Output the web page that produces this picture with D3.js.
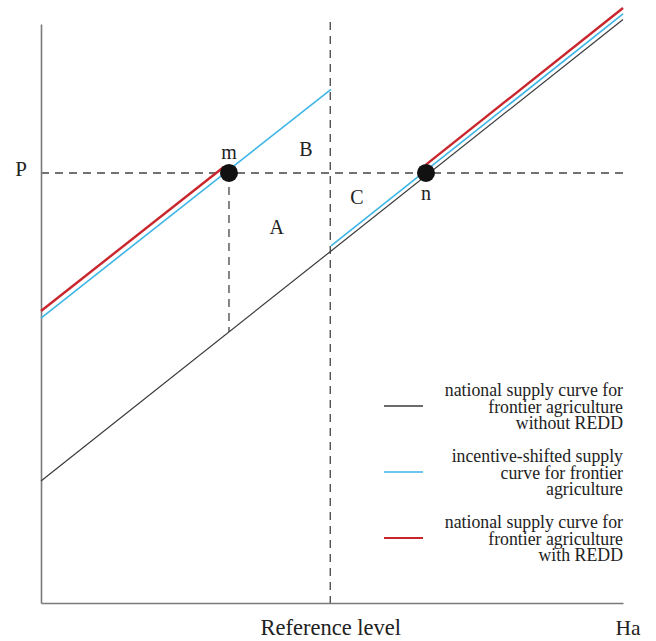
<!DOCTYPE html>
<html>
<head>
<meta charset="utf-8">
<script src="https://cdn.jsdelivr.net/npm/d3@7"></script>
<style>
  html, body { margin: 0; padding: 0; background: #fff; }
  svg { display: block; }
  text { font-family: "Liberation Serif", "DejaVu Serif", serif; fill: #222; }
</style>
</head>
<body>
<div id="chart"></div>
<script>
// ---- data (conceptual units: x = hectares, y = price, both 0..100) ----
const xDomain = [0, 100];
const yDomain = [0, 100];
const priceP = 74.27;            // price level P
const referenceLevel = 49.7;     // reference level on Ha axis
const curveWithoutREDD = [[0, 21.07], [100, 100.78]];
const incentiveLeft = [[0, 49.22], [49.83, 88.72]];
const incentiveRight = [[49.83, 61.66], [100, 101.73]];
const withREDDLeft = [[0, 50.43], [31.4, 75.3]];
const withREDDRight = [[66.15, 75.72], [100, 102.76]];
const mDrop = [[32.3, 74.27], [32.3, 46.8]];
const equilibria = [{ name: "m", x: 32.3, y: 74.27 }, { name: "n", x: 66.15, y: 74.27 }];
const areaLabels = [{ t: "A", x: 40.5, y: 64.9 }, { t: "B", x: 45.5, y: 78.4 }, { t: "C", x: 54.3, y: 70.1 }];
const legendItems = [
  { lines: ["national supply curve for", "frontier agriculture", "without REDD"], key: "black" },
  { lines: ["incentive-shifted supply", "curve for frontier", "agriculture"], key: "blue" },
  { lines: ["national supply curve for", "frontier agriculture", "with REDD"], key: "red" }
];
const xLabel = "Ha";
const refLabel = "Reference level";
const yLabel = "P";

// ---- styles ----
const W = 656, H = 641;
const colors = { black: "#3a3a3a", blue: "#3db5e6", red: "#c9252c", axis: "#7a7a7a", dash: "#444" };
const widths = { black: 1.2, blue: 1.6, red: 2.4 };

const svg = d3.select("#chart").append("svg").attr("width", W).attr("height", H);

const x = d3.scaleLinear().domain(xDomain).range([41, 623]);
const y = d3.scaleLinear().domain(yDomain).range([603, 24]);
const line = d3.line().x(d => x(d[0])).y(d => y(d[1]));

// dashed guides
const dashed = svg.append("g").attr("stroke", colors.dash).attr("stroke-width", 1.3)
  .attr("stroke-dasharray", "8,6").attr("fill", "none");
dashed.append("path").attr("d", line([[0, priceP], [100, priceP]]));
dashed.append("path").attr("d", line([[referenceLevel, 100.35], [referenceLevel, 0]]));
dashed.append("path").attr("d", line(mDrop));

// axes
const xAxis = d3.axisBottom(x).tickValues([referenceLevel]).tickFormat(() => refLabel)
  .tickSize(0).tickSizeOuter(0).tickPadding(16);
const gx = svg.append("g").attr("transform", `translate(0,${y(0)})`).call(xAxis);
gx.select(".domain").attr("stroke", colors.axis).attr("stroke-width", 1.6);
gx.selectAll("text").attr("font-family", "Liberation Serif").attr("font-size", 22.5).attr("fill", "#222");

const yAxis = d3.axisLeft(y).tickValues([priceP]).tickFormat(() => yLabel)
  .tickSize(0).tickSizeOuter(0).tickPadding(14);
const gy = svg.append("g").attr("transform", `translate(${x(0)},0)`).call(yAxis);
gy.select(".domain").attr("stroke", colors.axis).attr("stroke-width", 1.6);
gy.selectAll("text").attr("font-family", "Liberation Serif").attr("font-size", 21).attr("fill", "#222")
  .attr("dy", "0.1em");

svg.append("text").attr("x", 628).attr("y", 635).attr("text-anchor", "middle")
  .attr("font-size", 21.5).text(xLabel);

// curves
const curves = svg.append("g").attr("fill", "none");
curves.append("path").attr("d", line(curveWithoutREDD)).attr("stroke", colors.black).attr("stroke-width", widths.black);
[incentiveLeft, incentiveRight].forEach(seg =>
  curves.append("path").attr("d", line(seg)).attr("stroke", colors.blue).attr("stroke-width", widths.blue));
[withREDDLeft, withREDDRight].forEach(seg =>
  curves.append("path").attr("d", line(seg)).attr("stroke", colors.red).attr("stroke-width", widths.red));

// equilibrium points
svg.append("g").selectAll("circle").data(equilibria).join("circle")
  .attr("cx", d => x(d.x)).attr("cy", d => y(d.y)).attr("r", 9).attr("fill", "#111");
svg.append("g").selectAll("text").data(equilibria).join("text")
  .attr("x", d => x(d.x)).attr("y", d => d.name === "m" ? y(d.y) - 14 : y(d.y) + 27)
  .attr("text-anchor", "middle").attr("font-size", 20).text(d => d.name);

// area labels
svg.append("g").selectAll("text").data(areaLabels).join("text")
  .attr("x", d => x(d.x)).attr("y", d => y(d.y)).attr("dy", "0.35em")
  .attr("text-anchor", "middle").attr("font-size", 20).text(d => d.t);

// legend
const leg = svg.append("g");
legendItems.forEach((item, i) => {
  const base = 396 + i * 66;
  leg.append("line").attr("x1", 384).attr("x2", 423)
    .attr("y1", base + 10).attr("y2", base + 10)
    .attr("stroke", colors[item.key]).attr("stroke-width", item.key === "red" ? 2.2 : 1.6);
  item.lines.forEach((t, j) => {
    leg.append("text").attr("x", 623).attr("y", base + j * 16.6)
      .attr("text-anchor", "end").attr("font-size", 17.8).text(t);
  });
});
</script>
</body>
</html>
